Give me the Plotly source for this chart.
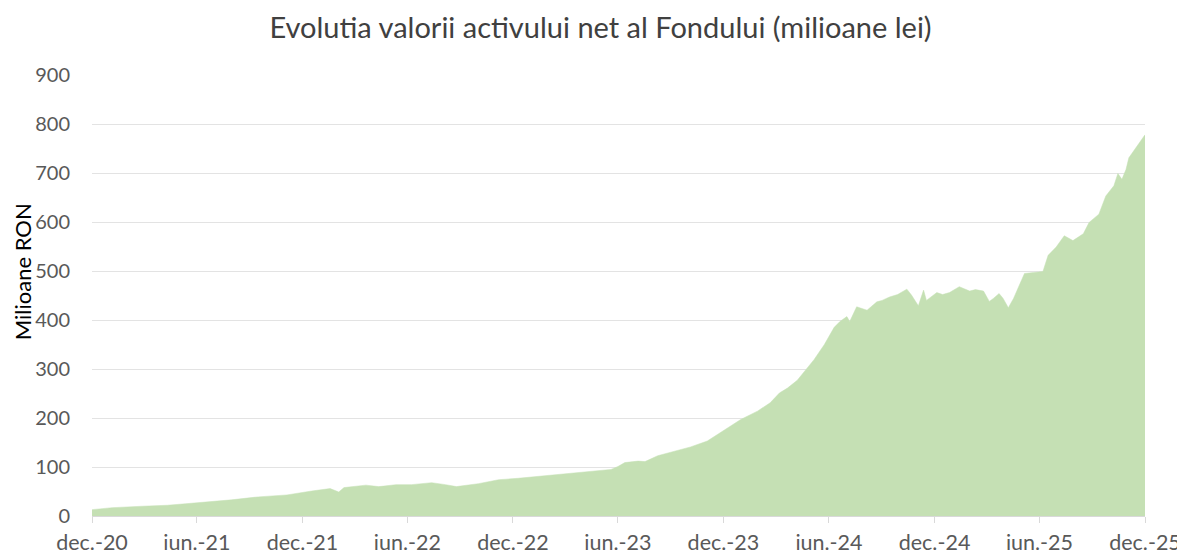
import plotly.graph_objects as go

dates = [
    "2020-12-01", "2021-01-05", "2021-02-27", "2021-04-11", "2021-05-12", "2021-06-28",
    "2021-07-31", "2021-09-15", "2021-11-04", "2021-12-17", "2022-01-18", "2022-02-02",
    "2022-02-11", "2022-03-21", "2022-04-12", "2022-04-21", "2022-05-12", "2022-06-08",
    "2022-07-13", "2022-08-06", "2022-08-25", "2022-10-02", "2022-11-06", "2022-12-10",
    "2023-01-26", "2023-03-01", "2023-04-15", "2023-05-20", "2023-06-01", "2023-06-13",
    "2023-07-06", "2023-07-18", "2023-08-09", "2023-09-12", "2023-10-05", "2023-11-03",
    "2023-11-21", "2023-12-13", "2023-12-31", "2024-01-29", "2024-02-20", "2024-03-07",
    "2024-03-21", "2024-04-07", "2024-04-19", "2024-05-06", "2024-05-24", "2024-06-10",
    "2024-06-20", "2024-07-02", "2024-07-07", "2024-07-19", "2024-08-06", "2024-08-23",
    "2024-09-01", "2024-09-14", "2024-09-28", "2024-10-14", "2024-10-22", "2024-11-03",
    "2024-11-12", "2024-11-17", "2024-12-05", "2024-12-15", "2024-12-27", "2025-01-05",
    "2025-01-13", "2025-01-31", "2025-02-10", "2025-02-24", "2025-03-06", "2025-03-13",
    "2025-03-23", "2025-03-30", "2025-04-08", "2025-04-17", "2025-04-27", "2025-05-06",
    "2025-05-22", "2025-06-07", "2025-06-16", "2025-06-30", "2025-07-14", "2025-07-29",
    "2025-08-16", "2025-08-26", "2025-09-12", "2025-09-24", "2025-10-08", "2025-10-15",
    "2025-10-22", "2025-10-29", "2025-11-03", "2025-11-15", "2025-11-24", "2025-12-01",
]
nav_values = [
    13, 17, 20, 22, 25, 29,
    33, 39, 43, 51, 56, 49,
    58, 63, 60, 61, 64, 64,
    68, 64, 60, 66, 74, 77,
    82, 86, 91, 95, 101, 109,
    112, 111, 123, 133, 141, 153,
    167, 184, 197, 214, 231, 251,
    261, 277, 295, 319, 350, 385,
    397, 407, 397, 427, 420, 437,
    440, 447, 452, 463, 451, 429,
    461, 440, 456, 452, 456, 462,
    468, 459, 462, 459, 438, 444,
    454, 444, 425, 444, 471, 495,
    497, 499, 532, 549, 572, 562,
    576, 599, 616, 653, 674, 699,
    687, 707, 731, 751, 768, 778,
]

tick_dates = ["2020-12-01", "2021-06-01", "2021-12-01", "2022-06-01", "2022-12-01",
              "2023-06-01", "2023-12-01", "2024-06-01", "2024-12-01", "2025-06-01",
              "2025-12-01"]
tick_labels = ["dec.-20", "iun.-21", "dec.-21", "iun.-22", "dec.-22", "iun.-23",
               "dec.-23", "iun.-24", "dec.-24", "iun.-25", "dec.-25"]
y_ticks = [0, 100, 200, 300, 400, 500, 600, 700, 800, 900]

title_text = "Evolutia valorii activului net al Fondului (milioane lei)"
y_title = "Milioane RON"

FONT = "Lato"
GREEN = "#c5e0b4"

fig = go.Figure()
fig.add_trace(go.Scatter(
    x=dates, y=nav_values, mode="lines", fill="tozeroy",
    fillcolor=GREEN, line=dict(color=GREEN, width=0.5),
    hoverinfo="x+y", showlegend=False,
))

fig.update_layout(
    width=1185, height=559,
    margin=dict(l=84, r=44, t=67, b=48),
    paper_bgcolor="white", plot_bgcolor="white",
    title=dict(text=title_text, x=0.5, xanchor="center", y=0.965, yanchor="middle",
               font=dict(family=FONT, size=29, color="#404040")),
    font=dict(family=FONT, color="#595959"),
    xaxis=dict(
        type="date", range=["2020-12-01", "2025-12-01"],
        tickmode="array", tickvals=tick_dates, ticktext=tick_labels,
        showgrid=False, showline=True, linecolor="#d9d9d9", linewidth=1,
        ticks="outside", ticklen=6, tickcolor="#d9d9d9",
        tickfont=dict(family=FONT, size=21.5, color="#595959"),
        ticklabelstandoff=1, zeroline=False,
    ),
    yaxis=dict(
        range=[0, 900], tickmode="array", tickvals=y_ticks,
        showgrid=True, gridcolor="#e3e3e3", gridwidth=1,
        zeroline=False, showline=False, ticks="",
        tickfont=dict(family=FONT, size=20, color="#595959"),
        ticklabelstandoff=21,
    ),
    annotations=[dict(
        text=y_title, xref="paper", yref="paper", x=-0.0665, y=0.555,
        xanchor="center", yanchor="middle", textangle=-90, showarrow=False,
        font=dict(family=FONT, size=22, color="#000000"),
    )],
)

fig.write_html("out.html")
